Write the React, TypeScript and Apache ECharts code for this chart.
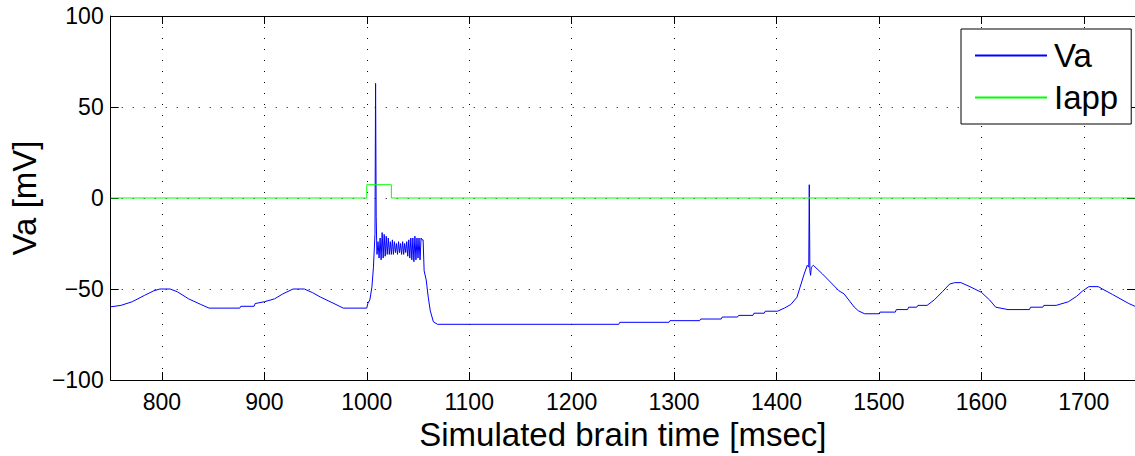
import React, { useEffect, useRef } from "react";
import * as echarts from "echarts";

// Membrane potential Va [mV] sampled at time t [msec]
const vaTime: number[] = [
  750, 760, 771, 783, 792, 798, 808, 815, 826, 838, 846, 876, 877, 890, 891, 900, 910, 918, 928, 939,
  947, 955, 968, 977, 1000, 1001, 1003, 1005, 1006.5, 1008, 1008.6, 1009.2, 1009.8,
  1010, 1011, 1012, 1013, 1014, 1015, 1016, 1017, 1018, 1019, 1020, 1021, 1022, 1023, 1024, 1025,
  1026, 1027, 1028, 1029, 1030, 1031, 1032, 1033, 1034, 1035, 1036, 1037, 1038, 1039, 1040, 1041,
  1042, 1043, 1044, 1045, 1046, 1047, 1048, 1049, 1050, 1051, 1052, 1053, 1054, 1055,
  1056, 1058, 1060, 1062, 1065, 1069, 1246, 1247, 1295, 1296, 1325, 1326, 1346, 1347, 1362, 1363,
  1377, 1378, 1388, 1389, 1401, 1408, 1414, 1420, 1423, 1427, 1430, 1431.5, 1432, 1432.6, 1433.3,
  1434, 1436, 1445, 1461, 1466, 1476, 1480, 1486, 1500, 1501, 1516, 1517, 1528, 1529, 1537, 1538,
  1547, 1554, 1562, 1569, 1574, 1580, 1588, 1600, 1608, 1614, 1626, 1647, 1648, 1660, 1661, 1673,
  1685, 1693, 1699, 1705, 1714, 1728, 1744, 1750,
];
const vaValue: number[] = [
  -59.8, -59, -57, -53.5, -51, -50, -50, -51.5, -55.4, -58.5, -60.5, -60.5, -59.5, -59.5, -58, -57, -55.4, -52.7, -50, -50,
  -52, -54.5, -58, -60.5, -60.5, -58, -56, -49, -38, -20, 63, -10, -29,
  -31, -24, -33, -22, -34, -19, -33, -20, -32, -21, -31, -22, -31, -24, -31, -23,
  -31, -24, -30, -25, -31, -24, -30, -25, -31, -24, -31, -25, -30, -24, -32, -23,
  -33, -22, -34, -22, -35, -21, -34, -22, -33, -22, -34, -22, -23, -23,
  -40, -45, -54.5, -62, -68, -69.4, -69.4, -68.3, -68.3, -67.4, -67.4, -66.5, -66.5, -65.4, -65.4, -64.5,
  -64.5, -63.3, -63.3, -62.2, -62.2, -60.4, -58.5, -54.5, -49, -41.8, -37, -38, 7.3, -40, -42.5,
  -38, -37, -41.8, -51, -52.7, -60, -62, -63.6, -63.6, -62.7, -62.7, -61.3, -61.3, -60, -60, -59,
  -59, -56, -51.5, -47.3, -46.5, -46.5, -48.5, -51.8, -56, -60, -61.3, -61.3, -60, -60, -59, -59,
  -57, -54, -51, -48.7, -48.7, -53, -58, -59.5,
];

// Applied current Iapp (step pulse)
const iappTime: number[] = [750, 1000, 1000, 1024, 1024, 1750];
const iappValue: number[] = [0, 0, 7.3, 7.3, 0, 0];

const seriesNames = ["Va", "Iapp"];
const xAxisTitle = "Simulated brain time [msec]";
const yAxisTitle = "Va [mV]";

const FONT = "'Liberation Sans', Arial, Helvetica, sans-serif";

export default function App() {
  const ref = useRef<HTMLDivElement>(null);

  useEffect(() => {
    document.body.style.margin = "0";
    if (!ref.current) return;
    const chart = echarts.init(ref.current, null, { renderer: "svg" });

    const pair = (t: number[], v: number[]) => t.map((x, i) => [x, v[i]]);
    const dotted = { show: true, lineStyle: { color: "#000", width: 1, type: [1, 10] as any } };
    const axisLine = { show: true, onZero: false, lineStyle: { color: "#000", width: 1 } };
    const tick = { show: true, inside: true, length: 8, lineStyle: { color: "#000", width: 1 } };
    const fmt = (v: number) => String(v).replace("-", "\u2212");

    chart.setOption({
      animation: false,
      backgroundColor: "#fff",
      textStyle: { fontFamily: FONT },
      grid: { left: 108.5, top: 16, width: 1031, height: 367, containLabel: false },
      legend: {
        data: seriesNames,
        orient: "vertical",
        left: 961,
        top: 29,
        padding: [10, 13, 10, 13],
        itemGap: 9,
        itemWidth: 72,
        itemHeight: 14,
        itemStyle: { opacity: 0 },
        backgroundColor: "#fff",
        borderColor: "#000",
        borderWidth: 1,
        borderRadius: 0,
        textStyle: { fontSize: 33, color: "#000", fontFamily: FONT, padding: [0, 0, 0, 2] },
      },
      xAxis: [
        {
          type: "value",
          min: 750,
          max: 1750,
          splitNumber: 10,
          position: "bottom",
          axisLine,
          axisTick: tick,
          splitLine: dotted,
          axisLabel: {
            fontSize: 23,
            color: "#000",
            margin: 10,
            showMinLabel: false,
            showMaxLabel: false,
            fontFamily: FONT,
            formatter: fmt,
          },
          name: xAxisTitle,
          nameLocation: "middle",
          nameGap: 38,
          nameTextStyle: { fontSize: 33, color: "#000", fontFamily: FONT },
        },
        {
          type: "value",
          min: 750,
          max: 1750,
          splitNumber: 10,
          position: "top",
          axisLine,
          axisTick: tick,
          splitLine: { show: false },
          axisLabel: { show: false },
        },
      ],
      yAxis: [
        {
          type: "value",
          min: -100,
          max: 100,
          interval: 50,
          position: "left",
          axisLine,
          axisTick: tick,
          splitLine: dotted,
          axisLabel: {
            fontSize: 23,
            color: "#000",
            margin: 7,
            fontFamily: FONT,
            formatter: fmt,
          },
          name: yAxisTitle,
          nameLocation: "middle",
          nameGap: 60,
          nameTextStyle: { fontSize: 33, color: "#000", fontFamily: FONT },
        },
        {
          type: "value",
          min: -100,
          max: 100,
          interval: 50,
          position: "right",
          axisLine,
          axisTick: tick,
          splitLine: { show: false },
          axisLabel: { show: false },
        },
      ],
      series: [
        {
          name: seriesNames[0],
          type: "line",
          data: pair(vaTime, vaValue),
          symbol: "none",
          lineStyle: { color: "#0000ff", width: 1 },
          itemStyle: { color: "#0000ff" },
          clip: true,
        },
        {
          name: seriesNames[1],
          type: "line",
          data: pair(iappTime, iappValue),
          symbol: "none",
          lineStyle: { color: "#00ff00", width: 1 },
          itemStyle: { color: "#00ff00" },
          clip: true,
        },
      ],
    });

    return () => chart.dispose();
  }, []);

  return <div ref={ref} style={{ width: 1135, height: 456 }} />;
}
